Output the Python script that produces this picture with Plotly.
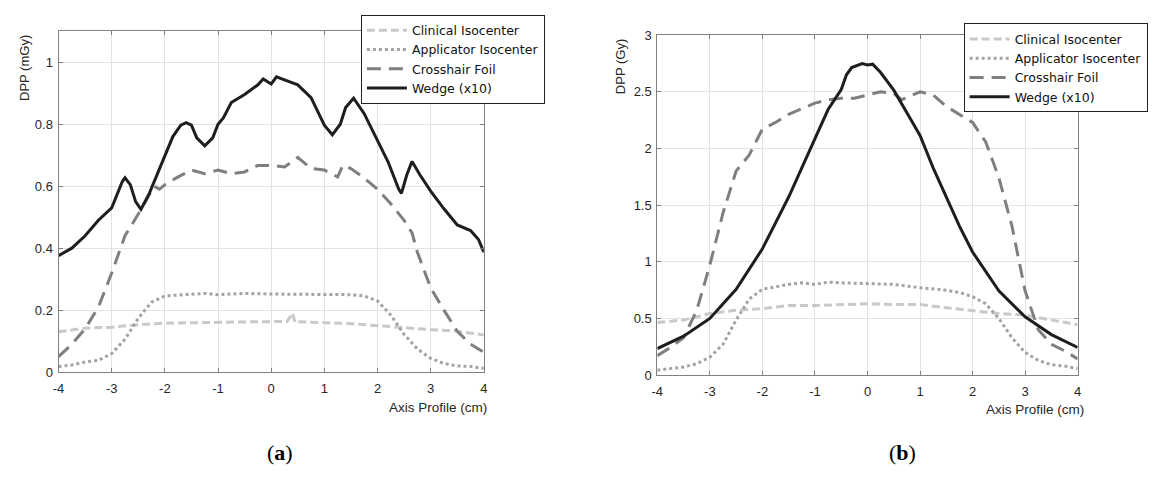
import plotly.graph_objects as go

# ---------------- Panel (a) data (mGy) ----------------
a_clin_x = [-4, -3.5, -3, -2.5, -2, -1.5, -1, -0.5, 0, 0.3, 0.4, 0.45, 0.5, 1, 1.5, 2, 2.5, 3, 3.5, 4]
a_clin_y = [0.13, 0.142, 0.145, 0.153, 0.158, 0.16, 0.162, 0.162, 0.163, 0.163, 0.19, 0.16, 0.163, 0.16, 0.156, 0.15, 0.143, 0.137, 0.132, 0.12]

a_appl_x = [-4, -3.75, -3.5, -3.25, -3, -2.75, -2.5, -2.25, -2, -1.5, -1.25, -1, -0.5, 0, 0.5, 1, 1.5, 1.75, 2, 2.25, 2.5, 2.75, 3, 3.25, 3.5, 3.75, 4]
a_appl_y = [0.018, 0.023, 0.033, 0.038, 0.06, 0.106, 0.174, 0.226, 0.246, 0.25, 0.254, 0.25, 0.254, 0.252, 0.252, 0.252, 0.25, 0.246, 0.23, 0.184, 0.122, 0.075, 0.044, 0.028, 0.02, 0.018, 0.012]

a_cross_x = [-4, -3.75, -3.5, -3.25, -3, -2.75, -2.5, -2.35, -2.2, -2.1, -2, -1.75, -1.5, -1.25, -1, -0.75, -0.5, -0.25, 0, 0.25, 0.5, 0.75, 1, 1.25, 1.35, 1.5, 1.75, 2, 2.25, 2.5, 2.65, 2.75, 3, 3.25, 3.5, 3.75, 4]
a_cross_y = [0.05, 0.09, 0.14, 0.21, 0.32, 0.44, 0.51, 0.553, 0.60, 0.59, 0.605, 0.63, 0.652, 0.64, 0.652, 0.64, 0.646, 0.667, 0.667, 0.662, 0.693, 0.657, 0.652, 0.63, 0.667, 0.657, 0.626, 0.59, 0.543, 0.49, 0.449, 0.387, 0.272, 0.20, 0.132, 0.09, 0.064]

a_wedge_x = [-4, -3.75, -3.5, -3.25, -3, -2.9, -2.8, -2.75, -2.65, -2.55, -2.45, -2.3, -2.2, -2, -1.85, -1.7, -1.6, -1.5, -1.4, -1.25, -1.1, -1, -0.9, -0.75, -0.5, -0.25, -0.15, 0, 0.1, 0.25, 0.5, 0.75, 1, 1.15, 1.3, 1.4, 1.55, 1.75, 2, 2.2, 2.4, 2.45, 2.55, 2.65, 2.8, 3, 3.25, 3.5, 3.75, 3.9, 4]
a_wedge_y = [0.376, 0.40, 0.44, 0.49, 0.53, 0.57, 0.615, 0.627, 0.605, 0.55, 0.525, 0.574, 0.615, 0.70, 0.76, 0.797, 0.805, 0.797, 0.756, 0.73, 0.756, 0.80, 0.82, 0.87, 0.896, 0.927, 0.946, 0.93, 0.953, 0.943, 0.927, 0.886, 0.797, 0.766, 0.80, 0.854, 0.884, 0.834, 0.745, 0.678, 0.59, 0.577, 0.636, 0.68, 0.636, 0.584, 0.527, 0.475, 0.457, 0.428, 0.387]

# ---------------- Panel (b) data (Gy) ----------------
b_clin_x = [-4, -3.5, -3, -2.5, -2, -1.5, -1, -0.5, 0, 0.5, 1, 1.5, 2, 2.5, 3, 3.5, 4]
b_clin_y = [0.463, 0.486, 0.543, 0.571, 0.586, 0.614, 0.614, 0.623, 0.629, 0.623, 0.623, 0.594, 0.571, 0.543, 0.529, 0.486, 0.443]

b_appl_x = [-4, -3.5, -3.25, -3, -2.75, -2.5, -2.25, -2, -1.5, -1.25, -1, -0.75, -0.5, 0, 0.5, 1, 1.5, 1.75, 2, 2.25, 2.5, 2.75, 3, 3.25, 3.5, 3.75, 4]
b_appl_y = [0.043, 0.071, 0.10, 0.157, 0.271, 0.486, 0.671, 0.757, 0.80, 0.814, 0.80, 0.82, 0.814, 0.806, 0.80, 0.771, 0.749, 0.729, 0.691, 0.629, 0.50, 0.329, 0.20, 0.129, 0.091, 0.08, 0.057]

b_cross_x = [-4, -3.75, -3.5, -3.25, -3, -2.75, -2.5, -2.25, -2, -1.75, -1.5, -1.25, -1, -0.75, -0.5, -0.25, 0, 0.25, 0.5, 0.65, 1, 1.25, 1.5, 1.75, 2, 2.25, 2.5, 2.75, 3, 3.25, 3.5, 3.75, 4]
b_cross_y = [0.171, 0.243, 0.33, 0.571, 0.971, 1.43, 1.80, 1.943, 2.171, 2.229, 2.30, 2.349, 2.40, 2.429, 2.443, 2.443, 2.471, 2.50, 2.486, 2.43, 2.50, 2.471, 2.371, 2.30, 2.229, 2.057, 1.743, 1.314, 0.743, 0.40, 0.271, 0.214, 0.143]

b_wedge_x = [-4, -3.5, -3, -2.5, -2, -1.75, -1.5, -1.25, -1, -0.75, -0.5, -0.4, -0.3, -0.1, 0, 0.1, 0.25, 0.5, 0.75, 1, 1.25, 1.5, 1.75, 2, 2.5, 3, 3.5, 4]
b_wedge_y = [0.234, 0.343, 0.50, 0.757, 1.114, 1.343, 1.571, 1.829, 2.086, 2.343, 2.52, 2.65, 2.714, 2.749, 2.737, 2.743, 2.67, 2.514, 2.314, 2.114, 1.829, 1.571, 1.314, 1.086, 0.743, 0.514, 0.357, 0.243]

series_names = ["Clinical Isocenter", "Applicator Isocenter", "Crosshair Foil", "Wedge (x10)"]
x_ticks = [-4, -3, -2, -1, 0, 1, 2, 3, 4]
x_tick_labels = ["-4", "-3", "-2", "-1", "0", "1", "2", "3", "4"]
a_y_ticks = [0, 0.2, 0.4, 0.6, 0.8, 1]
a_y_tick_labels = ["0", "0.2", "0.4", "0.6", "0.8", "1"]
b_y_ticks = [0, 0.5, 1, 1.5, 2, 2.5, 3]
b_y_tick_labels = ["0", "0.5", "1", "1.5", "2", "2.5", "3"]

styles = [
    dict(color="#c9c9c9", width=3, dash="8px,4px"),
    dict(color="#a3a3a3", width=3, dash="3px,3px"),
    dict(color="#7f7f7f", width=3, dash="14px,8px"),
    dict(color="#1e1e1e", width=3, dash="solid"),
]

W, H = 1156, 477
fig = go.Figure()

panel_a = [(a_clin_x, a_clin_y), (a_appl_x, a_appl_y), (a_cross_x, a_cross_y), (a_wedge_x, a_wedge_y)]
panel_b = [(b_clin_x, b_clin_y), (b_appl_x, b_appl_y), (b_cross_x, b_cross_y), (b_wedge_x, b_wedge_y)]

for (xs, ys), name, st in zip(panel_a, series_names, styles):
    fig.add_trace(go.Scatter(x=xs, y=ys, mode="lines", name=name, line=st,
                             xaxis="x", yaxis="y", legend="legend"))
for (xs, ys), name, st in zip(panel_b, series_names, styles):
    fig.add_trace(go.Scatter(x=xs, y=ys, mode="lines", name=name, line=st,
                             xaxis="x2", yaxis="y2", legend="legend2"))

tickfont = dict(family="Liberation Sans, Arial, sans-serif", size=13, color="#262626")
axis_common = dict(showline=True, linecolor="#808080", linewidth=1, mirror="ticks",
                   ticks="inside", ticklen=4, tickcolor="#808080",
                   showgrid=True, gridcolor="#e3e3e3", gridwidth=1,
                   zeroline=False, tickfont=tickfont, tickmode="array")


def px_x(p):
    return p / W


def px_y(p):
    return 1 - p / H


legend_common = dict(bgcolor="white", bordercolor="#222222", borderwidth=1,
                     font=dict(family="DejaVu Sans", size=12.5, color="#111111"),
                     xanchor="left", yanchor="top", tracegroupgap=0, itemwidth=40)

fig.update_layout(
    width=W, height=H, margin=dict(l=0, r=0, t=0, b=0),
    paper_bgcolor="white", plot_bgcolor="white",
    xaxis=dict(domain=[px_x(53), px_x(482)], range=[-4, 4], tickvals=x_ticks, ticktext=x_tick_labels,
               anchor="y", ticklabelstandoff=4, **axis_common),
    yaxis=dict(domain=[px_y(377), px_y(25)], range=[0, 1.1], tickvals=a_y_ticks, ticktext=a_y_tick_labels,
               anchor="x", ticklabelstandoff=2, **axis_common),
    xaxis2=dict(domain=[px_x(657), px_x(1081)], range=[-4, 4], tickvals=x_ticks, ticktext=x_tick_labels,
                anchor="y2", ticklabelstandoff=4, **axis_common),
    yaxis2=dict(domain=[px_y(380), px_y(29)], range=[0, 3], tickvals=b_y_ticks, ticktext=b_y_tick_labels,
                anchor="x2", ticklabelstandoff=2, **axis_common),
    legend=dict(x=px_x(358), y=px_y(8), **legend_common),
    legend2=dict(x=px_x(966), y=px_y(17), **legend_common),
    showlegend=True,
)

ann_font = dict(family="Liberation Sans, Arial, sans-serif", size=13, color="#262626")
annotations = [
    dict(text="DPP (mGy)", x=px_x(18), y=px_y(27), xref="paper", yref="paper", textangle=-90,
         xanchor="center", yanchor="top", showarrow=False, font=ann_font),
    dict(text="DPP (Gy)", x=px_x(620), y=px_y(31), xref="paper", yref="paper", textangle=-90,
         xanchor="center", yanchor="top", showarrow=False, font=ann_font),
    dict(text="Axis Profile (cm)", x=px_x(487), y=px_y(404), xref="paper", yref="paper",
         xanchor="right", yanchor="top", showarrow=False, font=dict(ann_font, size=13.5)),
    dict(text="Axis Profile (cm)", x=px_x(1089), y=px_y(406), xref="paper", yref="paper",
         xanchor="right", yanchor="top", showarrow=False, font=dict(ann_font, size=13.5)),
    dict(text="(<b>a</b>)", x=px_x(276), y=px_y(460), xref="paper", yref="paper",
         xanchor="center", yanchor="middle", showarrow=False,
         font=dict(family="Liberation Serif, DejaVu Serif, serif", size=22, color="#000000")),
    dict(text="(<b>b</b>)", x=px_x(904), y=px_y(460), xref="paper", yref="paper",
         xanchor="center", yanchor="middle", showarrow=False,
         font=dict(family="Liberation Serif, DejaVu Serif, serif", size=22, color="#000000")),
]
fig.update_layout(annotations=annotations)

fig.write_html("out.html")
